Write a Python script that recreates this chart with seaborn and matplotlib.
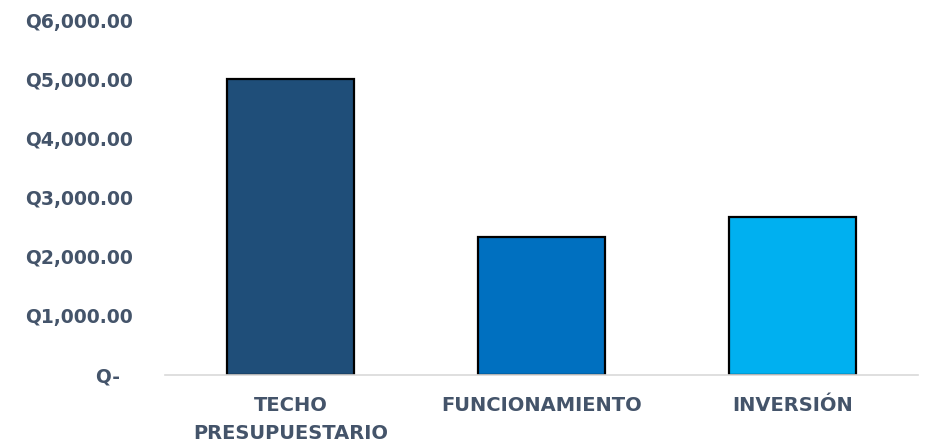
import matplotlib
matplotlib.use("Agg")
import matplotlib.pyplot as plt
import seaborn as sns
import numpy as np

categorias = ["TECHO\nPRESUPUESTARIO", "FUNCIONAMIENTO", "INVERSIÓN"]
montos = [5000, 2337, 2663]
colores = ["#1f4e79", "#0070c0", "#00b0f0"]
y_ticks = [0, 1000, 2000, 3000, 4000, 5000, 6000]

sns.set_style("white")
plt.rcParams['font.family'] = ['DejaVu Sans']

texto = "#44546a"

fig = plt.figure(figsize=(9.31, 4.48), dpi=100)
ax = fig.add_axes([0.177, 0.163, 0.809, 0.792])

sns.barplot(x=categorias, y=montos, hue=categorias, palette=colores, legend=False,
            width=0.505, edgecolor="black", linewidth=1.6, saturation=1, ax=ax)

ax.set_ylim(0, 6000)
ax.set_xlim(-0.5, 2.5)
ax.set_yticks(y_ticks)
ax.set_yticklabels(["Q-  " if v == 0 else f"Q{v:,.2f}" for v in y_ticks])

for s in ["top", "right", "left"]:
    ax.spines[s].set_visible(False)
ax.spines["bottom"].set_color("#d9d9d9")
ax.spines["bottom"].set_linewidth(1.2)

ax.tick_params(axis="y", length=0, pad=23, labelsize=13.5, labelcolor=texto)
ax.tick_params(axis="x", length=0, pad=15, labelsize=14, labelcolor=texto)
for lbl in ax.get_yticklabels() + ax.get_xticklabels():
    lbl.set_fontweight("bold")
for lbl in ax.get_xticklabels():
    lbl.set_linespacing(1.6)

ax.set_xlabel("")
ax.set_ylabel("")
ax.grid(False)

plt.savefig("out.png", dpi=100)
plt.close()
